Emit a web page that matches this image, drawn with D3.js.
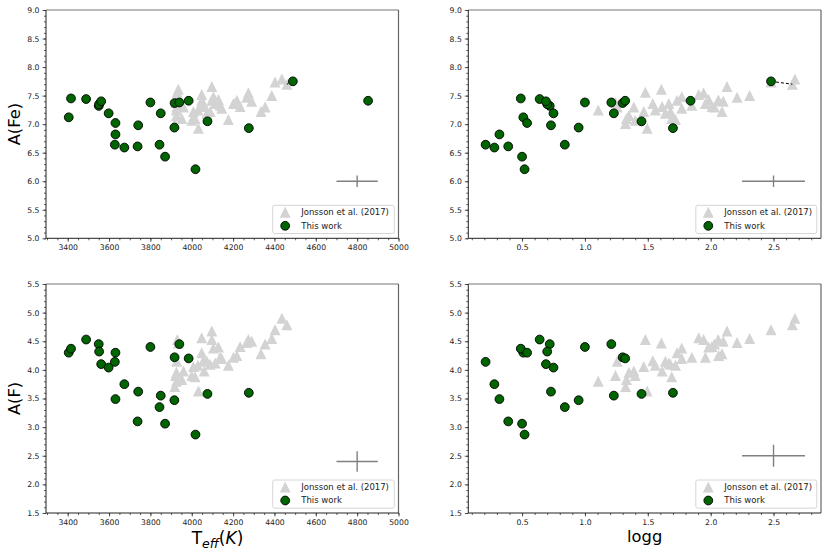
<!DOCTYPE html>
<html>
<head>
<meta charset="utf-8">
<script src="https://cdn.jsdelivr.net/npm/d3@7"></script>
<style>
  html, body { margin: 0; padding: 0; background: #fff; }
  svg { display: block; font-family: "DejaVu Sans", sans-serif; }
</style>
</head>
<body>
<svg id="chart" width="830" height="556"></svg>
<script>
// ---------------- DATA ----------------
// This work
const teffThis = [3405,3416,3489,3550,3552,3562,3598,3631,3628,3631,3674,3741,3738,3800,3850,3844,3871,3917,3940,3916,3985,4018,4076,4276,4489,4853];
const loggThis = [0.51,0.49,0.64,0.72,0.70,0.69,0.75,0.54,0.21,0.32,0.28,0.73,0.39,1.00,1.23,0.84,0.50,1.30,1.21,0.95,1.32,0.52,1.45,1.70,2.48,1.84];
const feThis   = [7.12,7.45,7.44,7.32,7.35,7.40,7.19,7.02,6.64,6.82,6.59,6.98,6.61,7.38,7.19,6.64,6.43,7.37,7.38,6.94,7.41,6.21,7.05,6.93,7.75,7.41];
const fThis    = [4.30,4.37,4.53,4.45,4.32,4.10,4.04,4.30,4.14,3.49,3.75,3.62,3.10,4.40,3.55,3.35,3.06,4.22,4.45,3.47,4.20,2.87,3.58,3.60,null,null];

// Jonsson et al. (2017)
const teffJ = [3926,3922,3918,3926,3960,4000,4008,3930,4032,4056,4030,3935,4060,4073,4113,4089,4016,4177,4048,4105,4145,4137,4048,4274,4202,4129,4234,4218,4335,4290,4097,4266,4387,4403,4460,4436,4355,3927,3952,4097];
const loggJ = [1.106,1.243,1.323,1.35,1.389,1.40,1.468,1.481,1.495,1.54,1.56,1.608,1.614,1.64,1.667,1.68,1.69,1.72,1.733,1.77,1.77,1.85,1.905,1.944,1.958,1.984,2.01,2.063,2.09,2.10,2.13,2.21,2.31,2.48,2.65,2.67,2.03,1.257,1.33,2.06];
const feJ   = [7.25,7.38,7.01,7.15,7.30,7.07,7.22,7.56,6.93,7.36,7.25,7.61,7.31,7.19,7.36,7.22,7.10,7.08,7.42,7.48,7.28,7.33,7.52,7.55,7.36,7.43,7.31,7.42,7.22,7.40,7.66,7.47,7.50,7.74,7.70,7.79,7.30,7.30,7.10,7.42];
const fJ    = [3.80,3.90,3.71,3.96,3.98,3.90,4.06,4.53,3.63,4.16,4.08,4.47,3.98,4.15,4.12,4.10,3.88,4.08,4.30,4.38,4.20,4.22,4.56,4.53,4.22,4.40,4.41,4.25,4.28,4.50,4.68,4.48,4.55,4.70,4.79,4.90,4.45,4.15,3.83,4.53];

// star in common (index in This work, index in Jonsson)
const commonThis = [24];
const commonJ = [34];

// representative error bars: [x, y, xerr, yerr] per panel
const errX    = [4800, 2.5, 4800, 2.5];
const errY    = [6.0, 6.0, 2.4, 2.5];
const errXerr = [100, 0.25, 100, 0.25];
const errYerr = [0.1, 0.1, 0.18, 0.19];

const legendLabels = ["Jonsson et al. (2017)", "This work"];
const teffTicks = [3400,3600,3800,4000,4200,4400,4600,4800,5000];
const loggTicks = [0.5,1.0,1.5,2.0,2.5];
const feTicks = [5.0,5.5,6.0,6.5,7.0,7.5,8.0,8.5,9.0];
const fTicks = [1.5,2.0,2.5,3.0,3.5,4.0,4.5,5.0,5.5];

// ---------------- LAYOUT ----------------
const svg = d3.select("#chart");
const panels = [
  {x0:46,    x1:398.5, y0:10,  y1:238.3, xs:"teff", ys:"fe", xdom:[3295,5000], ydom:[5,9],
   xt:teffTicks, yt:feTicks, xminor:50, yminor:0.1, xfmt:d3.format("d"), ylabel:"A(Fe)", xlabel:null},
  {x0:468.3, x1:821,   y0:10,  y1:238.3, xs:"logg", ys:"fe", xdom:[0.0725,2.8775], ydom:[5,9],
   xt:loggTicks, yt:feTicks, xminor:0.1, yminor:0.1, xfmt:d3.format(".1f"), ylabel:null, xlabel:null},
  {x0:46,    x1:398.5, y0:284, y1:513,   xs:"teff", ys:"f", xdom:[3295,5000], ydom:[1.5,5.5],
   xt:teffTicks, yt:fTicks, xminor:50, yminor:0.1, xfmt:d3.format("d"), ylabel:"A(F)", xlabel:"teff"},
  {x0:468.3, x1:821,   y0:284, y1:513,   xs:"logg", ys:"f", xdom:[0.0725,2.8775], ydom:[1.5,5.5],
   xt:loggTicks, yt:fTicks, xminor:0.1, yminor:0.1, xfmt:d3.format(".1f"), ylabel:null, xlabel:"logg"}
];

const thisData = teffThis.map((t,i)=>({teff:t, logg:loggThis[i], fe:feThis[i], f:fThis[i]}));
const jData = teffJ.map((t,i)=>({teff:t, logg:loggJ[i], fe:feJ[i], f:fJ[i]}));

const TRI = 5.5; // half-size of triangle
function triPath(cx, cy, s) {
  return `M${cx},${cy - s}L${cx + s},${cy + s}L${cx - s},${cy + s}Z`;
}

const tickColor = "#333";

panels.forEach((p, pi) => {
  const x = d3.scaleLinear().domain(p.xdom).range([p.x0, p.x1]);
  const y = d3.scaleLinear().domain(p.ydom).range([p.y1, p.y0]);
  const g = svg.append("g");

  // clip
  const cid = "clip" + pi;
  svg.append("clipPath").attr("id", cid).append("rect")
    .attr("x", p.x0).attr("y", p.y0).attr("width", p.x1 - p.x0).attr("height", p.y1 - p.y0);
  const plot = g.append("g").attr("clip-path", `url(#${cid})`);

  // Jonsson triangles
  plot.selectAll("path.tri").data(jData.filter(d => d[p.ys] != null)).join("path")
    .attr("class", "tri")
    .attr("d", d => triPath(x(d[p.xs]), y(d[p.ys]), TRI))
    .attr("fill", "#d3d3d3");

  // error cross
  plot.append("line")
    .attr("x1", x(errX[pi] - errXerr[pi])).attr("x2", x(errX[pi] + errXerr[pi]))
    .attr("y1", y(errY[pi])).attr("y2", y(errY[pi]))
    .attr("stroke", "#808080").attr("stroke-width", 1.4);
  plot.append("line")
    .attr("x1", x(errX[pi])).attr("x2", x(errX[pi]))
    .attr("y1", y(errY[pi] - errYerr[pi])).attr("y2", y(errY[pi] + errYerr[pi]))
    .attr("stroke", "#808080").attr("stroke-width", 1.4);

  // dashed link for common star
  commonThis.forEach((ti, k) => {
    const a = thisData[ti], b = jData[commonJ[k]];
    if (a[p.ys] == null || b[p.ys] == null) return;
    plot.append("line")
      .attr("x1", x(a[p.xs])).attr("y1", y(a[p.ys]))
      .attr("x2", x(b[p.xs])).attr("y2", y(b[p.ys]))
      .attr("stroke", "#000").attr("stroke-width", 1).attr("stroke-dasharray", "3,2");
  });

  // This work circles
  plot.selectAll("circle.tw").data(thisData.filter(d => d[p.ys] != null)).join("circle")
    .attr("class", "tw")
    .attr("cx", d => x(d[p.xs])).attr("cy", d => y(d[p.ys]))
    .attr("r", 4.4)
    .attr("fill", "#006400").attr("stroke", "#000").attr("stroke-width", 0.9);

  // minor ticks
  const xMinor = d3.range(Math.ceil(p.xdom[0] / p.xminor), Math.floor(p.xdom[1] / p.xminor) + 1)
    .map(k => +(k * p.xminor).toFixed(4));
  const yMinor = d3.range(Math.ceil(p.ydom[0] / p.yminor - 1e-6), Math.floor(p.ydom[1] / p.yminor + 1e-6) + 1)
    .map(k => +(k * p.yminor).toFixed(4));

  const gxm = g.append("g").attr("transform", `translate(0,${p.y1})`)
    .call(d3.axisBottom(x).tickValues(xMinor).tickSize(2).tickFormat("").tickSizeOuter(0));
  const gym = g.append("g").attr("transform", `translate(${p.x0},0)`)
    .call(d3.axisLeft(y).tickValues(yMinor).tickSize(2).tickFormat("").tickSizeOuter(0));

  // major ticks
  const gx = g.append("g").attr("transform", `translate(0,${p.y1})`)
    .call(d3.axisBottom(x).tickValues(p.xt).tickSize(3.5).tickPadding(3).tickFormat(p.xfmt).tickSizeOuter(0));
  const gy = g.append("g").attr("transform", `translate(${p.x0},0)`)
    .call(d3.axisLeft(y).tickValues(p.yt).tickSize(3.5).tickPadding(3).tickFormat(d3.format(".1f")).tickSizeOuter(0));

  [gxm, gym, gx, gy].forEach(a => {
    a.select(".domain").remove();
    a.selectAll("line").attr("stroke", tickColor).attr("stroke-width", 0.8);
    a.selectAll("text").attr("font-family", "DejaVu Sans").attr("font-size", 7.7).attr("fill", "#222");
  });

  // spines
  g.append("line").attr("x1", p.x0).attr("x2", p.x1).attr("y1", p.y0).attr("y2", p.y0)
    .attr("stroke", "#777").attr("stroke-width", 1.2);
  g.append("line").attr("x1", p.x1).attr("x2", p.x1).attr("y1", p.y0).attr("y2", p.y1)
    .attr("stroke", "#666").attr("stroke-width", 1.2);
  g.append("line").attr("x1", p.x0).attr("x2", p.x1).attr("y1", p.y1).attr("y2", p.y1)
    .attr("stroke", "#222").attr("stroke-width", 1);
  g.append("line").attr("x1", p.x0).attr("x2", p.x0).attr("y1", p.y0).attr("y2", p.y1)
    .attr("stroke", "#222").attr("stroke-width", 1);

  // legend
  const lw = (pi % 2 === 0) ? 121.6 : 121;
  const lh = 28.2;
  const lx = p.x1 - 4.2 - lw;
  const ly = p.y1 - 4.8 - lh;
  const lg = g.append("g");
  lg.append("rect").attr("x", lx).attr("y", ly).attr("width", lw).attr("height", lh)
    .attr("rx", 2).attr("fill", "#fff").attr("fill-opacity", 0.85)
    .attr("stroke", "#ccc").attr("stroke-width", 0.8);
  lg.append("path").attr("d", triPath(lx + 12.5, ly + 7, TRI)).attr("fill", "#d3d3d3");
  lg.append("circle").attr("cx", lx + 12.5).attr("cy", ly + 20.5).attr("r", 4.4)
    .attr("fill", "#006400").attr("stroke", "#000").attr("stroke-width", 0.9);
  legendLabels.forEach((t, k) => {
    lg.append("text").attr("x", lx + 28.5).attr("y", ly + 7 + k * 13.5).attr("dy", "0.35em")
      .attr("font-size", 8.5).attr("fill", "#222").text(t);
  });

  // y label
  if (p.ylabel) {
    const cy = (p.y0 + p.y1) / 2;
    g.append("text").attr("transform", `translate(${14.5},${cy}) rotate(-90)`)
      .attr("text-anchor", "middle").attr("dy", "0.35em")
      .attr("font-size", 16.3).attr("fill", "#000").text(p.ylabel);
  }
  // x label
  if (p.xlabel === "logg") {
    g.append("text").attr("x", (p.x0 + p.x1) / 2).attr("y", 542)
      .attr("text-anchor", "middle").attr("font-size", 16.3).attr("fill", "#000").text("logg");
  } else if (p.xlabel === "teff") {
    const t = g.append("text").attr("x", 217.5).attr("y", 544)
      .attr("text-anchor", "middle").attr("font-size", 17).attr("fill", "#000");
    t.append("tspan").text("T");
    t.append("tspan").attr("font-style", "italic").attr("font-size", 12.5).attr("dy", 3.5).text("eff");
    t.append("tspan").attr("dy", -3.5).text("(");
    t.append("tspan").attr("font-style", "italic").text("K");
    t.append("tspan").text(")");
  }
});
</script>
</body>
</html>
